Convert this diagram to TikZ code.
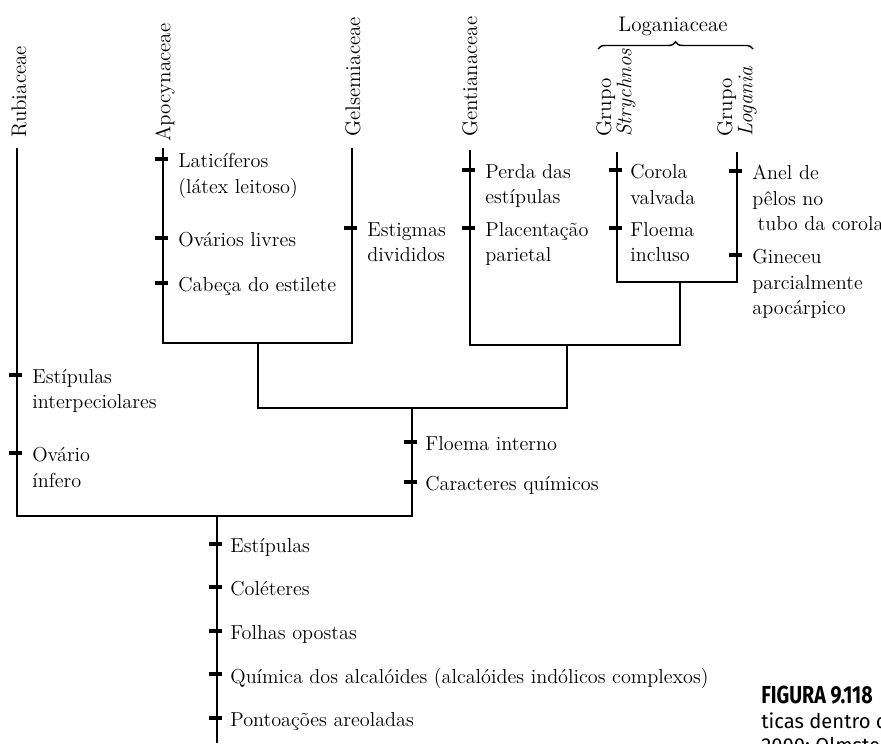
\documentclass[tikz,border=0pt]{standalone}
\usepackage{fontspec}
\newfontfamily\capfont{Fira Sans}
\usetikzlibrary{decorations.pathreplacing}

\begin{document}
\begin{tikzpicture}[x=0.02cm,y=-0.02cm]

\tikzset{taxon/.style = {rotate=90, anchor=west, inner sep=0pt, align=left, font=\fontsize{12}{11.5}\selectfont}}
\tikzset{family/.style = {inner sep=0pt, font=\fontsize{12}{14}\selectfont}}
\tikzset{branch/.style = {line width=1.4pt}}
\tikzset{tick/.style = {rectangle, fill, inner sep=0pt, minimum width=7.5pt, minimum height=2.6pt, xshift=-1pt}}
\tikzset{trait/.style = {anchor=north west, inner sep=0pt, align=left, font=\fontsize{11.5}{14.5}\selectfont}}
\tikzset{caption/.style = {anchor=base west, inner sep=0pt}}

\useasboundingbox (0,0) rectangle (881,743);

%taxa
\node[taxon] (rub) at (19,138) {Rubiaceae};
\node[taxon] (apo) at (165,142) {Apocynaceae};
\node[taxon] (gel) at (353,137) {Gelsemiaceae};
\node[taxon] (gen) at (470,137) {Gentianaceae};
\node[taxon] (stry) at (616,137) {Grupo\\\textit{Strychnos}};
\node[taxon] (loga) at (737,137) {Grupo\\\textit{Logania}};
\node[family] (logn) at (673,26) {Loganiaceae};
\coordinate (bl) at (598,49);
\coordinate (br) at (753,49);
\draw[decorate, decoration={brace, amplitude=4pt}, line width=0.8pt] (bl) -- (br);

%branch tips
\coordinate (rubt) at (17,148);
\coordinate (apot) at (163,148);
\coordinate (gelt) at (352,148);
\coordinate (gent) at (470,150);
\coordinate (stryt) at (617,152);
\coordinate (logat) at (737,152);
%branch points
\coordinate (ag) at (258,343);
\coordinate (sl) at (680,282);
\coordinate (gl) at (567,345);
\coordinate (core) at (412,408);
\coordinate (root) at (217,516);
\coordinate (base) at (217,743);

\draw[branch] (apot) |- (ag) -| (gelt);
\draw[branch] (stryt) |- (sl) -| (logat);
\draw[branch] (gent) |- (gl) -| (sl);
\draw[branch] (ag) |- (core) -| (gl);
\draw[branch] (core) |- (root);
\draw[branch] (rubt) |- (root) -- (base);

%Apocynaceae
\node[tick] (t1) at (163,159) {};
\node[trait] (c1) at (178,153) {Laticíferos\\(látex leitoso)};
\node[tick] (t2) at (163,238) {};
\node[trait] (c2) at (178,232) {Ovários livres};
\node[tick] (t3) at (163,283) {};
\node[trait] (c3) at (178,277) {Cabeça do estilete};
%Gelsemiaceae
\node[tick] (t4) at (352,228) {};
\node[trait] (c4) at (367,222) {Estigmas\\divididos};
%Gentianaceae
\node[tick] (t5) at (470,170) {};
\node[trait] (c5) at (485,164) {Perda das\\estípulas};
\node[tick] (t6) at (470,228) {};
\node[trait] (c6) at (485,222) {Placentação\\parietal};
%Strychnos
\node[tick] (t7) at (617,170) {};
\node[trait] (c7) at (630,164) {Corola\\valvada};
\node[tick] (t8) at (617,228) {};
\node[trait] (c8) at (630,222) {Floema\\incluso};
%Logania
\node[tick] (t9) at (737,171) {};
\node[trait] (c9) at (752,165) {Anel de\\pêlos no\\\hspace{3pt}tubo da corola};
\node[tick] (t10) at (737,255) {};
\node[trait] (c10) at (752,249) {Gineceu\\parcialmente\\apocárpico};
%Rubiaceae
\node[tick] (t11) at (17,375) {};
\node[trait] (c11) at (32,369) {Estípulas\\interpeciolares};
\node[tick] (t12) at (17,453) {};
\node[trait] (c12) at (32,447) {Ovário\\ínfero};
%Apocynaceae + Gelsemiaceae + Gentianaceae + Loganiaceae
\node[tick] (t13) at (412,442) {};
\node[trait] (c13) at (425,436) {Floema interno};
\node[tick] (t14) at (412,482) {};
\node[trait] (c14) at (425,476) {Caracteres químicos};
%whole group
\node[tick] (t15) at (217,544) {};
\node[trait] (c15) at (230,538) {Estípulas};
\node[tick] (t16) at (217,587) {};
\node[trait] (c16) at (230,581) {Coléteres};
\node[tick] (t17) at (217,631) {};
\node[trait] (c17) at (230,625) {Folhas opostas};
\node[tick] (t18) at (217,674) {};
\node[trait] (c18) at (230,668) {Química dos alcalóides (alcalóides indólicos complexos)};
\node[tick] (t19) at (217,718) {};
\node[trait] (c19) at (230,712) {Pontoações areoladas};

%caption
\node[caption, font=\capfont\bfseries\fontsize{14}{16}\selectfont] (fig) at (761,703) {\scalebox{0.8}[1]{FIGURA 9.118}};
\node[caption, font=\capfont\fontsize{11.5}{14}\selectfont] (cap1) at (761,728) {ticas dentro d};
\node[caption, font=\capfont\fontsize{11.5}{14}\selectfont] (cap2) at (761,752) {2000; Olmstea};

\end{tikzpicture}
\end{document}
